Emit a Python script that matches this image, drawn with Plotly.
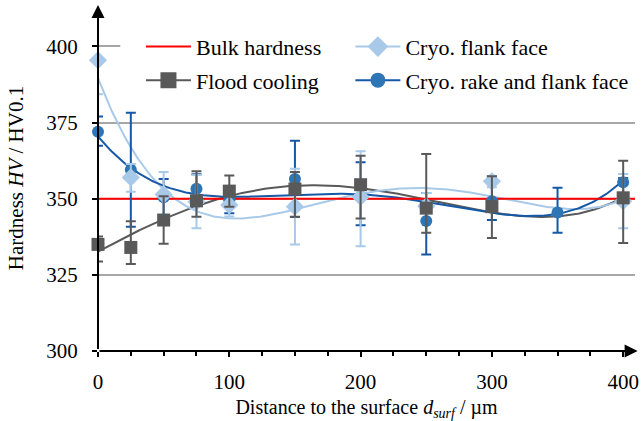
import numpy as np
import plotly.graph_objects as go

# ---------------- data ----------------
bulk_hardness = 350

x_flood = [0, 25, 50, 75, 100, 150, 200, 250, 300, 400]
y_flood = [335.0, 334.0, 343.0, 349.3, 352.5, 353.2, 354.6, 346.9, 347.4, 350.3]
e_flood_p = [2.6, 8.6, 7.8, 9.7, 5.1, 5.6, 9.5, 17.8, 10.0, 12.2]
e_flood_m = [5.6, 5.4, 7.8, 5.2, 5.1, 9.1, 11.1, 8.1, 10.3, 14.8]

x_flank = [0, 25, 50, 75, 100, 150, 200, 250, 300, 400]
y_flank = [395.5, 357.0, 351.4, 349.0, 347.9, 347.4, 350.6, 347.5, 355.7, 349.2]
e_flank_p = [14.9, 4.4, 7.4, 8.8, 3.7, 12.4, 15.0, 4.4, 1.1, 8.9]
e_flank_m = [11.2, 4.7, 7.4, 8.7, 3.7, 12.4, 16.2, 1.5, 1.9, 8.9]

x_rake = [0, 25, 50, 75, 100, 150, 200, 250, 300, 350, 400]
y_rake = [372.0, 359.5, 350.5, 353.3, 349.5, 356.5, 350.8, 342.7, 349.2, 345.5, 355.4]
e_rake_p = [5.0, 18.7, 6.0, 4.7, 4.3, 12.5, 11.2, 9.2, 8.1, 8.1, 1.4]
e_rake_m = [4.6, 18.7, 7.8, 5.0, 4.3, 12.5, 9.5, 11.0, 6.2, 6.7, 3.5]

x_ticks = [0, 100, 200, 300, 400]
y_ticks = [300, 325, 350, 375, 400]

FONT = "Liberation Serif, Times New Roman, serif"
C_RED = "#FF0000"
C_GRAY = "#595959"
C_LIGHT = "#A9C9E8"
C_BLUE_M = "#2E75B6"
C_BLUE_L = "#1558A6"

fig = go.Figure()

def trend(xs, ys, deg):
    c = np.polyfit(xs, ys, deg)
    xx = np.linspace(min(xs), max(xs), 300)
    return xx, np.polyval(c, xx)

# (name, x, y, err+, err-, marker colour, line colour, symbol, size, fit degree, legend, group)
series = {
    "flood": ("Flood cooling", x_flood, y_flood, e_flood_p, e_flood_m, C_GRAY, C_GRAY, "square", 13, 4, "legend", "b"),
    "flank": ("Cryo. flank face", x_flank, y_flank, e_flank_p, e_flank_m, C_LIGHT, C_LIGHT, "diamond", 14, 4, "legend2", "c"),
    "rake": ("Cryo. rake and flank face", x_rake, y_rake, e_rake_p, e_rake_m, C_BLUE_M, C_BLUE_L, "circle", 12, 4, "legend2", "d"),
}

# trend lines
for key in ["flood", "flank", "rake"]:
    name, xs, ys, ep, em, cm, cl, sym, size, deg, leg, grp = series[key]
    tx, ty = trend(xs, ys, deg)
    fig.add_trace(go.Scatter(x=tx, y=ty, mode="lines", line=dict(color=cl, width=2),
                             showlegend=False, hoverinfo="skip"))

# bulk hardness line
fig.add_trace(go.Scatter(x=[0, 410], y=[bulk_hardness, bulk_hardness], mode="lines",
                         line=dict(color=C_RED, width=2), name="Bulk hardness",
                         legend="legend", legendgroup="a", showlegend=True))

# measured points with error bars (drawing order: rake, flank, flood)
for key in ["rake", "flank", "flood"]:
    name, xs, ys, ep, em, cm, cl, sym, size, deg, leg, grp = series[key]
    fig.add_trace(go.Scatter(
        x=xs, y=ys, mode="markers", showlegend=False, cliponaxis=False,
        marker=dict(symbol=sym, size=size, color=cm, line=dict(width=0)),
        error_y=dict(type="data", symmetric=False, array=ep, arrayminus=em,
                     color=cl, thickness=2, width=5)))

# legend entries
for key in ["flood", "flank", "rake"]:
    name, xs, ys, ep, em, cm, cl, sym, size, deg, leg, grp = series[key]
    fig.add_trace(go.Scatter(
        x=[None], y=[None], mode="lines+markers", name=name,
        line=dict(color=cl, width=2),
        marker=dict(symbol=sym, size=size + 3, color=cm),
        legend=leg, legendgroup=grp, showlegend=True))

# axis arrows
fig.add_annotation(x=411, y=300, ax=0, ay=300, xref="x", yref="y", axref="x", ayref="y",
                   showarrow=True, arrowhead=2, arrowsize=1.3, arrowwidth=2,
                   arrowcolor="black", text=" ", font=dict(size=1))
fig.add_annotation(x=0, y=413.6, ax=0, ay=300, xref="x", yref="y", axref="x", ayref="y",
                   showarrow=True, arrowhead=2, arrowsize=1.3, arrowwidth=2,
                   arrowcolor="black", text=" ", font=dict(size=1))

# hide grid line under the legend area
fig.add_shape(type="rect", xref="x", yref="y", x0=17, x1=409, y0=398.5, y1=401.5,
              fillcolor="white", line=dict(width=0), layer="between")

legend_common = dict(font=dict(family=FONT, size=22, color="black"), bgcolor="rgba(0,0,0,0)",
                     orientation="v", tracegroupgap=2, itemwidth=45,
                     xanchor="left", yanchor="top")

fig.update_layout(
    width=644, height=421,
    margin=dict(l=98, r=6, t=5, b=66),
    paper_bgcolor="white", plot_bgcolor="white",
    font=dict(family=FONT, size=20, color="black"),
    legend=dict(x=0.08, y=0.94, **legend_common),
    legend2=dict(x=0.47, y=0.94, **legend_common),
    xaxis=dict(range=[0, 409], tickvals=x_ticks, ticks="outside", ticklen=5,
               tickcolor="black", tickwidth=1.5, showgrid=False, zeroline=False,
               showline=False, ticklabelstandoff=7,
               minor=dict(dtick=25, ticks="outside", ticklen=4, tickcolor="black", tickwidth=1.5),
               tickfont=dict(family=FONT, size=21, color="black"),
               title=dict(text="Distance to the surface <i>d</i><sub><i>surf</i></sub> / µm",
                          font=dict(family=FONT, size=20, color="black"), standoff=8)),
    yaxis=dict(range=[300, 413.6], tickvals=y_ticks, ticks="outside", ticklen=5,
               tickcolor="black", tickwidth=1.5, showgrid=True, gridcolor="#A6A6A6",
               gridwidth=1.5, zeroline=False, showline=False, ticklabelstandoff=10,
               tickfont=dict(family=FONT, size=21, color="black"),
               title=dict(text="Hardness <i>HV</i> / HV0.1",
                          font=dict(family=FONT, size=21, color="black"), standoff=16)),
)

fig.write_html("out.html")
